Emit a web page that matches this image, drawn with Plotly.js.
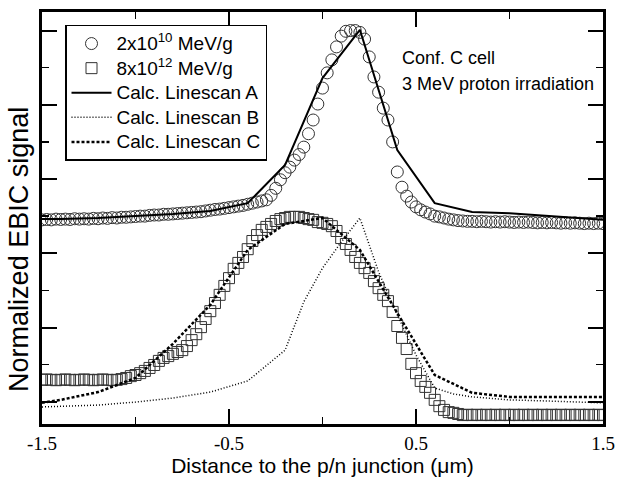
<!DOCTYPE html>
<html>
<head>
<meta charset="utf-8">
<script src="https://cdn.plot.ly/plotly-3.0.1.min.js"></script>
<style>
  html, body { margin: 0; padding: 0; background: #fff; }
  #chart { width: 618px; height: 479px; }
</style>
</head>
<body>
<div id="chart"></div>
<script>
// EBIC linescans across the p/n junction (distance in µm)
const xLow = [
  -1.500, -1.475, -1.450, -1.425, -1.400, -1.375, -1.350, -1.325, -1.300, -1.275,
  -1.250, -1.225, -1.200, -1.175, -1.150, -1.125, -1.100, -1.075, -1.050, -1.025,
  -1.000, -0.975, -0.950, -0.925, -0.900, -0.875, -0.850, -0.825, -0.800, -0.775,
  -0.750, -0.725, -0.700, -0.675, -0.650, -0.625, -0.600, -0.575, -0.550, -0.525,
  -0.500, -0.475, -0.450, -0.425, -0.400, -0.375, -0.350, -0.325, -0.300, -0.275,
  -0.250, -0.225, -0.200, -0.175, -0.150, -0.125, -0.100, -0.075, -0.050, -0.025,
   0.000,  0.025,  0.050,  0.075,  0.100,  0.125,  0.150,  0.175,  0.200,  0.225,
   0.250,  0.275,  0.300,  0.325,  0.350,  0.375,  0.400,  0.425,  0.450,  0.475,
   0.500,  0.525,  0.550,  0.575,  0.600,  0.625,  0.650,  0.675,  0.700,  0.725,
   0.750,  0.775,  0.800,  0.825,  0.850,  0.875,  0.900,  0.925,  0.950,  0.975,
   1.000,  1.025,  1.050,  1.075,  1.100,  1.125,  1.150,  1.175,  1.200,  1.225,
   1.250,  1.275,  1.300,  1.325,  1.350,  1.375,  1.400,  1.425,  1.450,  1.475,
   1.500
];
// 2x10^10 MeV/g measured scan
const yLow = [
  0.490, 0.491, 0.490, 0.492, 0.491, 0.492, 0.491, 0.493, 0.492, 0.493,
  0.492, 0.494, 0.493, 0.495, 0.494, 0.496, 0.495, 0.497, 0.497, 0.498,
  0.499, 0.500, 0.500, 0.502, 0.503, 0.503, 0.505, 0.505, 0.506, 0.507,
  0.508, 0.509, 0.510, 0.511, 0.512, 0.514, 0.516, 0.518, 0.519, 0.521,
  0.523, 0.525, 0.527, 0.529, 0.532, 0.535, 0.538, 0.541, 0.544, 0.556,
  0.575, 0.598, 0.617, 0.632, 0.651, 0.666, 0.686, 0.722, 0.759, 0.802,
  0.845, 0.886, 0.921, 0.956, 0.985, 0.998, 1.000, 1.000, 0.995, 0.977,
  0.929, 0.875, 0.834, 0.791, 0.759, 0.700, 0.619, 0.578, 0.554, 0.538,
  0.525, 0.517, 0.511, 0.506, 0.500, 0.498, 0.495, 0.492, 0.490, 0.488,
  0.487, 0.486, 0.486, 0.485, 0.486, 0.485, 0.484, 0.485, 0.484, 0.485,
  0.484, 0.483, 0.484, 0.483, 0.484, 0.483, 0.482, 0.483, 0.482, 0.483,
  0.482, 0.481, 0.482, 0.481, 0.482, 0.481, 0.480, 0.481, 0.480, 0.481,
  0.480
];
// 8x10^12 MeV/g measured scan (same positions)
const xHigh = xLow.slice();
const yHigh = [
  0.059, 0.060, 0.059, 0.058, 0.059, 0.060, 0.059, 0.058, 0.059, 0.060,
  0.059, 0.058, 0.059, 0.060, 0.059, 0.058, 0.059, 0.061, 0.064, 0.069,
  0.072, 0.077, 0.083, 0.091, 0.099, 0.110, 0.118, 0.123, 0.129, 0.134,
  0.139, 0.150, 0.166, 0.182, 0.201, 0.223, 0.244, 0.266, 0.288, 0.312,
  0.333, 0.358, 0.374, 0.390, 0.411, 0.433, 0.449, 0.463, 0.471, 0.479,
  0.487, 0.492, 0.495, 0.498, 0.498, 0.498, 0.495, 0.492, 0.490, 0.484,
  0.482, 0.479, 0.473, 0.460, 0.441, 0.425, 0.409, 0.390, 0.374, 0.360,
  0.347, 0.325, 0.306, 0.288, 0.271, 0.242, 0.204, 0.172, 0.142, 0.102,
  0.077, 0.056, 0.040, 0.024, 0.005, -0.012, -0.022, -0.028, -0.030, -0.033,
  -0.036, -0.035, -0.036, -0.035, -0.036, -0.035, -0.036, -0.035, -0.036, -0.035,
  -0.036, -0.035, -0.036, -0.035, -0.036, -0.035, -0.036, -0.035, -0.036, -0.035,
  -0.036, -0.035, -0.036, -0.035, -0.036, -0.035, -0.036, -0.035, -0.036, -0.035,
  -0.036
];
// Calculated linescan A
const xCalcA = [-1.5, -1.4, -1.2, -1.0, -0.8, -0.6, -0.4, -0.2, 0.0, 0.2, 0.4, 0.6, 0.8, 1.0, 1.2, 1.4, 1.5];
const yCalcA = [0.492, 0.492, 0.495, 0.500, 0.506, 0.514, 0.535, 0.638, 0.872, 1.002, 0.678, 0.535, 0.511, 0.508, 0.500, 0.492, 0.490];
// Calculated linescan B
const xCalcB = [-1.5, -1.4, -1.2, -1.0, -0.8, -0.6, -0.4, -0.2, -0.1, 0.0, 0.1, 0.2, 0.3, 0.4, 0.5, 0.6, 0.7, 0.8, 1.0, 1.2, 1.4, 1.5];
const yCalcB = [-0.014, -0.012, -0.009, -0.001, 0.010, 0.026, 0.056, 0.139, 0.269, 0.360, 0.430, 0.495, 0.350, 0.234, 0.126, 0.037, 0.021, 0.013, 0.005, 0.002, -0.001, -0.003];
// Calculated linescan C
const xCalcC = [-1.5, -1.4, -1.2, -1.0, -0.8, -0.6, -0.4, -0.2, 0.0, 0.2, 0.4, 0.6, 0.8, 1.0, 1.2, 1.4, 1.5];
const yCalcC = [-0.003, 0.005, 0.026, 0.064, 0.156, 0.261, 0.409, 0.479, 0.495, 0.409, 0.239, 0.072, 0.024, 0.013, 0.013, 0.013, 0.013];

// x tick positions and their printed labels (plain hyphen minus)
const xTickVals = [-1.5, -0.5, 0.5, 1.5];
const xTickText = ['-1.5', '-0.5', '0.5', '1.5'];

const legendNames = [
  '2x10<sup>10</sup> MeV/g',
  '8x10<sup>12</sup> MeV/g',
  'Calc. Linescan A',
  'Calc. Linescan B',
  'Calc. Linescan C'
];

const sans = 'Liberation Sans, Arial, sans-serif';
const serif = 'Liberation Serif, Times New Roman, serif';

// legend rows are spaced from the legend font size; the label itself is set a bit larger
const legendLabel = s => '<span style="font-size:19px">' + s + '</span>';

const traces = [
  {
    x: xLow, y: yLow, name: legendLabel(legendNames[0]), type: 'scatter', mode: 'markers',
    marker: { symbol: 'circle-open', size: 12, color: '#333', line: { width: 1, color: '#333' } }
  },
  {
    x: xHigh, y: yHigh, name: legendLabel(legendNames[1]), type: 'scatter', mode: 'markers',
    marker: { symbol: 'square-open', size: 11, color: '#333', line: { width: 1, color: '#333' } }
  },
  {
    x: xCalcA, y: yCalcA, name: legendLabel(legendNames[2]), type: 'scatter', mode: 'lines',
    line: { color: '#000', width: 2 }
  },
  {
    x: xCalcB, y: yCalcB, name: legendLabel(legendNames[3]), type: 'scatter', mode: 'lines',
    line: { color: '#000', width: 1.5, dash: '1px,2px' }
  },
  {
    x: xCalcC, y: yCalcC, name: legendLabel(legendNames[4]), type: 'scatter', mode: 'lines',
    line: { color: '#000', width: 2.5, dash: '3px,2px' }
  }
];

const axisCommon = {
  showline: true, linecolor: '#000', linewidth: 3, mirror: 'ticks',
  ticks: 'inside', tickcolor: '#000', tickwidth: 2, ticklen: 15,
  showgrid: false, zeroline: false
};

const layout = {
  width: 618, height: 479,
  margin: { l: 42, r: 15, t: 12, b: 55 },
  paper_bgcolor: '#fff', plot_bgcolor: '#fff',
  showlegend: true,
  legend: {
    x: 0.041, y: 0.969, xanchor: 'left', yanchor: 'top',
    bordercolor: '#000', borderwidth: 1.5, bgcolor: '#fff',
    font: { family: sans, size: 16.6, color: '#000' },
    itemwidth: 40, tracegroupgap: 0
  },
  xaxis: Object.assign({}, axisCommon, {
    range: [-1.5, 1.5], tickmode: 'array', tickvals: xTickVals, ticktext: xTickText,
    minor: { tick0: -1.5, dtick: 0.5, ticks: 'inside', ticklen: 7, tickwidth: 1.5, tickcolor: '#000' },
    tickfont: { family: serif, size: 19, color: '#000' },
    title: { text: 'Distance to the p/n junction (μm)', font: { family: sans, size: 21, color: '#000' }, standoff: 3 }
  }),
  yaxis: Object.assign({}, axisCommon, {
    range: [-0.06, 1.05], tick0: 0, dtick: 0.2, showticklabels: false,
    minor: { tick0: 0, dtick: 0.1, ticks: 'inside', ticklen: 7, tickwidth: 1.5, tickcolor: '#000' }
  }),
  annotations: [
    // y-axis title, set lower than the plot centre
    { text: 'Normalized EBIC signal', xref: 'paper', yref: 'paper', x: -0.041, y: 0.425,
      xanchor: 'center', yanchor: 'middle', textangle: -90, showarrow: false,
      font: { family: sans, size: 27, color: '#000' } },
    { text: 'Conf. C cell', xref: 'paper', yref: 'paper', x: 0.639, y: 0.888,
      xanchor: 'left', yanchor: 'middle', showarrow: false,
      font: { family: sans, size: 18, color: '#000' } },
    { text: '3 MeV proton irradiation', xref: 'paper', yref: 'paper', x: 0.639, y: 0.826,
      xanchor: 'left', yanchor: 'middle', showarrow: false,
      font: { family: sans, size: 18, color: '#000' } }
  ]
};

Plotly.newPlot('chart', traces, layout, { displayModeBar: false, staticPlot: true });
</script>
</body>
</html>
